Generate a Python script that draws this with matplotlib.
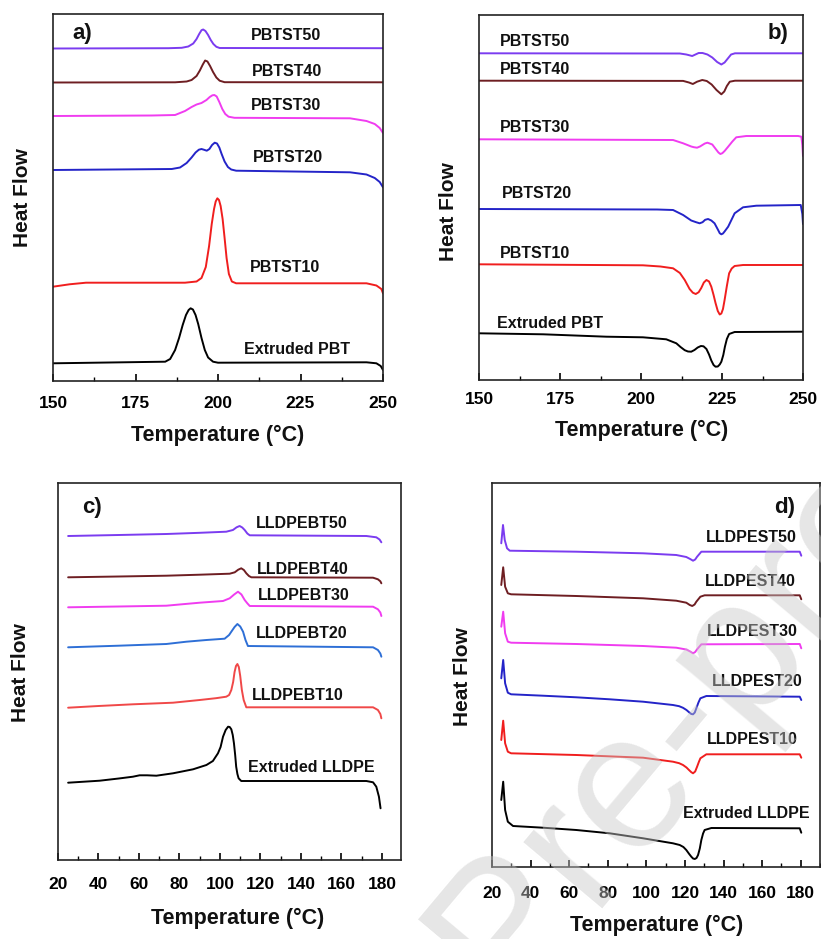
import matplotlib
matplotlib.use("Agg")
import matplotlib.pyplot as plt
from matplotlib.ticker import MultipleLocator, NullLocator

plt.rcParams['font.family'] = ['Liberation Sans', 'DejaVu Sans']
plt.rcParams['font.weight'] = 'bold'

# ---------------- Panel a) PBT series, cooling ----------------
a_labels = ['PBTST50', 'PBTST40', 'PBTST30', 'PBTST20', 'PBTST10', 'Extruded PBT']
a50_T = [150, 185, 189, 191, 192.5, 193.5, 194.3, 195, 195.5, 196.2, 197, 197.8, 198.6, 199.5, 200.5, 250]
a50_HF = [332.5, 332.8, 333.2, 334.5, 337.5, 342, 347, 350.8, 351.5, 350, 346, 341, 337, 334.2, 333, 332.8]
a40_T = [150, 187, 190.5, 192, 193.5, 194.5, 195.4, 196.1, 196.8, 197.6, 198.5, 199.5, 200.5, 202, 250]
a40_HF = [298.5, 298.7, 299.5, 301, 305, 310.5, 316.5, 320.5, 319.5, 315, 309, 303.5, 300.3, 298.8, 298.7]
a30_T = [150, 180, 187, 190, 192, 193.5, 195, 196.5, 197.5, 198.3, 198.9, 199.6, 200.4, 201.3, 202.2, 203.2, 205, 240, 245, 247.5, 249, 250]
a30_HF = [265, 265.5, 266, 270, 274, 276.5, 278, 281, 284, 285.7, 286, 284.5, 279, 272, 267, 264.3, 263.2, 262.7, 260, 257, 253, 248]
a20_T = [150, 186, 188.5, 190.5, 192, 193.2, 194.2, 195, 195.8, 196.6, 197.4, 198.2, 199, 199.7, 200.4, 201.1, 202, 203, 204, 205.5, 240, 245, 247.5, 249, 250]
a20_HF = [211, 212, 213.5, 218, 223.5, 228.5, 231.3, 232, 231.2, 230.3, 232, 236, 238.3, 237.5, 233.5, 227, 219.5, 214, 211.5, 210.3, 208.7, 206.5, 203, 199, 193.7]
a10_T = [150, 155, 160, 190, 193.5, 195, 196.3, 197.3, 198.1, 198.8, 199.3, 199.8, 200.3, 200.8, 201.4, 202, 202.6, 203.3, 204.2, 205.5, 245, 248, 249.5, 250]
a10_HF = [94.3, 96.7, 98.3, 98.3, 99.5, 103, 114, 135, 157, 172, 179.5, 182.7, 181, 175, 162, 143, 123, 107, 99.5, 97.7, 97.7, 95.5, 92, 87.7]
a0_T = [150, 184, 185.5, 187, 188.2, 189.3, 190.3, 191.1, 191.7, 192.4, 193.2, 194, 195, 196, 197, 198.5, 200, 245, 248, 249.3, 250]
a0_HF = [17.7, 19.3, 22, 31, 43, 56, 66, 71, 72.7, 71.5, 66, 57, 43, 31, 23.5, 19.3, 18.3, 18.7, 17.7, 15, 11]
a_series = [(a50_T, a50_HF), (a40_T, a40_HF), (a30_T, a30_HF), (a20_T, a20_HF), (a10_T, a10_HF), (a0_T, a0_HF)]
a_label_xy = [(220.6, 346), (221.0, 310), (220.6, 276), (221.2, 223), (220.3, 114), (224.0, 32)]

# ---------------- Panel b) PBT series, heating ----------------
b_labels = ['PBTST50', 'PBTST40', 'PBTST30', 'PBTST20', 'PBTST10', 'Extruded PBT']
b50_T = [150, 212, 214, 215.8, 216.8, 217.8, 219, 220.5, 222, 223.5, 224.8, 225.8, 226.8, 227.8, 229, 250]
b50_HF = [326.7, 326.5, 325.5, 324, 325.5, 327, 327, 325.5, 322.5, 318, 315.5, 317.5, 321.5, 325.5, 326.7, 326.7]
b40_T = [150, 213, 214.8, 216, 217.3, 218.9, 220.3, 221.8, 223.3, 224.8, 225.7, 226.5, 227.4, 229, 250]
b40_HF = [299.3, 299.1, 297.5, 296, 298.3, 300, 299, 295.5, 290, 285.7, 288.5, 294, 298.3, 299.3, 299.3]
b30_T = [150, 209.9, 213, 215.5, 216.3, 217.3, 218.2, 219.7, 220.5, 221.2, 222, 223.3, 223.9, 224.5, 225.1, 225.8, 226.9, 228.2, 229.4, 232.5, 248.5, 249.5, 249.8, 250]
b30_HF = [240.7, 240, 236.7, 233.5, 232.8, 232.3, 233.5, 236.5, 237.3, 236.5, 235.5, 230, 227.5, 226, 226.8, 229, 233.3, 238.5, 242.7, 244, 244, 243.3, 235, 224]
b20_T = [150, 205, 209.9, 213, 215.5, 217, 218.1, 219, 219.8, 220.7, 221.7, 222.7, 223.8, 224.3, 224.8, 225.3, 225.8, 226.9, 228.9, 231.5, 235.6, 249.3, 249.8, 250]
b20_HF = [171, 170.5, 170, 165, 159.5, 157.8, 156.7, 157.8, 160.2, 161, 159.5, 156.7, 150, 146.8, 145.7, 146.5, 148.5, 153.3, 166.7, 172.7, 174.3, 175, 166, 156]
b10_T = [150, 200.6, 206, 209.9, 212, 213.5, 215, 216, 216.9, 217.8, 218.6, 219.4, 220.2, 221, 221.7, 222.4, 223, 223.7, 224.3, 224.8, 225.3, 225.8, 226.5, 227.2, 228, 228.9, 231.5, 250]
b10_HF = [115.7, 114.7, 113.5, 111.7, 107, 100, 91, 87.3, 86, 87.8, 92, 97.5, 100, 98.5, 93.3, 85, 77, 69, 65.5, 66.5, 71, 80, 94, 106.7, 111.5, 114, 115, 115]
b0_T = [150, 169.8, 189.3, 200.6, 207.8, 210.9, 212.2, 213.5, 214.5, 215.5, 216.5, 217.5, 218.5, 219.3, 220.2, 221, 221.7, 222.4, 223, 223.7, 224.3, 224.8, 225.4, 225.9, 226.5, 227.2, 228.9, 250]
b0_HF = [46.7, 45.7, 43.3, 42.7, 40.7, 36.7, 33, 29.8, 28.5, 28.3, 30, 32.5, 34, 33.7, 31, 25.5, 19.5, 15, 13.3, 13.5, 15.5, 18.3, 25, 33.3, 41, 46, 48, 48.3]
b_series = [(b50_T, b50_HF), (b40_T, b40_HF), (b30_T, b30_HF), (b20_T, b20_HF), (b10_T, b10_HF), (b0_T, b0_HF)]
b_label_xy = [(156.5, 338), (156.5, 310), (156.5, 252), (157.1, 187), (156.5, 127), (155.6, 57)]

# ---------------- Panel c) LLDPE-BT series ----------------
c_labels = ['LLDPEBT50', 'LLDPEBT40', 'LLDPEBT30', 'LLDPEBT20', 'LLDPEBT10', 'Extruded LLDPE']
c50_T = [25, 50, 73.5, 90, 103.1, 106.4, 108.2, 109.7, 111, 112.2, 113.5, 114.7, 172.3, 177.2, 178.8, 179.7]
c50_HF = [324, 325, 326, 327.2, 328.3, 330, 332.7, 334, 332.5, 330, 326.5, 324.7, 324, 322.7, 320.5, 317.7]
c40_T = [25, 50, 73.5, 90, 104.8, 107.3, 109, 110.5, 111.8, 113, 114.3, 115.5, 175.6, 178, 179.2, 179.7]
c40_HF = [282.7, 283.5, 284.3, 285.3, 286.3, 287.7, 290.3, 291.7, 290, 286.7, 284, 282.7, 282.3, 280.7, 278.7, 276.7]
c30_T = [25, 50, 73.5, 80, 90, 101.5, 104.8, 107, 108.9, 110.6, 112.2, 113.5, 114.7, 175.6, 178, 179.2, 179.7]
c30_HF = [252.7, 253.5, 254.3, 255.5, 257.3, 259, 261.7, 265.5, 268.3, 265.5, 260, 256.7, 254, 253.3, 250.7, 247.5, 244]
c20_T = [25, 50, 73.5, 83.4, 93.3, 102.3, 104.5, 105.6, 107.2, 108.6, 110, 111.4, 112.6, 113.8, 175.6, 178, 179.2, 179.7]
c20_HF = [212.7, 214.3, 216, 218.3, 220, 221.3, 225, 228.3, 233, 236, 233.5, 228.3, 220, 214, 212.7, 210, 206.5, 203.3]
c10_T = [25, 40, 57, 76.8, 90, 98, 103.1, 104.5, 105.6, 106.5, 107.2, 107.9, 108.6, 109.3, 110, 110.8, 111.7, 113, 175.6, 178, 179.2, 179.7]
c10_HF = [152.3, 154, 155.7, 157.3, 160, 161.8, 163.3, 165, 170, 178, 188, 194, 196, 193, 184, 170, 160, 152.7, 152.7, 150, 146, 141.7]
c0_T = [25, 40.6, 50, 57, 60.3, 64, 68.6, 76.8, 86.7, 93.3, 96.5, 99, 100.3, 101.5, 102.8, 104, 104.8, 105.6, 106.3, 106.9, 107.5, 108, 108.6, 109.2, 110.5, 172.3, 175.6, 177.2, 178.5, 179.3]
c0_HF = [77.3, 79.3, 81.5, 83.3, 84.7, 84.7, 84.3, 86.7, 90.7, 95, 99, 106.7, 113, 123.3, 130, 133.3, 133, 130.7, 125, 116.7, 105, 93.3, 86, 81.7, 79, 79, 77.7, 73.3, 63.3, 51.7]
c_series = [(c50_T, c50_HF), (c40_T, c40_HF), (c30_T, c30_HF), (c20_T, c20_HF), (c10_T, c10_HF), (c0_T, c0_HF)]
c_label_xy = [(140.3, 336), (140.8, 291), (141.3, 264), (140.3, 227), (138.3, 165), (145.3, 93)]

# ---------------- Panel d) LLDPE-ST series ----------------
d_labels = ['LLDPEST50', 'LLDPEST40', 'LLDPEST30', 'LLDPEST20', 'LLDPEST10', 'Extruded LLDPE']
d50_T = [24.8, 25.7, 26.6, 27.8, 29.2, 63.7, 98.3, 115.5, 120.7, 122.7, 124.2, 125.3, 126.3, 128.5, 179.5, 180.3]
d50_HF = [323.7, 342, 327, 318.7, 316.3, 315.3, 313.7, 312, 310, 308, 306.3, 307.5, 310.3, 315.3, 315.3, 311.3]
d40_T = [24.8, 25.8, 26.8, 28.2, 29.9, 63.7, 98.3, 115.5, 120.7, 122.5, 123.8, 125, 125.9, 128, 130.2, 179.5, 180.3]
d40_HF = [282, 299.7, 280.3, 273.7, 272.7, 271, 268.7, 266.3, 264.3, 262, 261, 262.5, 265.3, 270.3, 271.7, 271.7, 267.7]
d30_T = [24.8, 25.8, 26.8, 28.2, 29.9, 63.7, 98.3, 115.5, 120.7, 122.7, 124.2, 125.3, 126.3, 128.5, 179.5, 180.3]
d30_HF = [240.3, 255.3, 233.7, 225.3, 224.3, 223, 221, 219.3, 217.5, 215.5, 213.7, 215, 217.7, 222.7, 223, 218.7]
d20_T = [24.8, 25.8, 26.8, 28.2, 29.9, 46.4, 63.7, 81, 98.3, 113.8, 117, 119, 120.8, 122.1, 123.3, 124.2, 125.1, 125.9, 127, 128, 131.1, 179.5, 180.3]
d20_HF = [188.7, 207, 183.7, 174.3, 172.7, 171.3, 169.7, 167.7, 165.3, 162, 160.8, 159.2, 157, 154.8, 153, 152.7, 154.5, 158.7, 164.5, 168.7, 171, 170.3, 167]
d10_T = [24.8, 25.8, 26.8, 28.2, 29.9, 63.7, 98.3, 113.8, 117, 119, 120.8, 122.1, 123.3, 124.2, 125.3, 126.3, 127.2, 128, 131.1, 179.5, 180.3]
d10_HF = [127, 146.3, 123.7, 115.3, 113.7, 112, 109.3, 105.3, 103.8, 102, 99.5, 97, 94.8, 93.7, 95.5, 100.3, 105, 108.7, 112.7, 112.7, 109.3]
d0_T = [24.8, 25.8, 26.8, 28.2, 30.9, 46.4, 63.7, 81, 98.3, 113.8, 117.3, 119.2, 120.7, 122.2, 123.3, 124.2, 125.1, 126, 126.8, 127.7, 128.5, 129.4, 130.2, 133.7, 179.5, 180.3]
d0_HF = [67, 85.3, 57, 45.3, 41, 39.3, 37, 33.7, 28.7, 23.7, 22, 20, 17, 13, 10.3, 8.5, 8, 9, 12, 18.5, 27, 33.5, 37, 39, 38.7, 34.3]
d_series = [(d50_T, d50_HF), (d40_T, d40_HF), (d30_T, d30_HF), (d20_T, d20_HF), (d10_T, d10_HF), (d0_T, d0_HF)]
d_label_xy = [(154.6, 329), (154.1, 285), (155.1, 236), (157.7, 185), (155.0, 127), (152.0, 54)]

colors_std = ['#7b3cf0', '#6e1e22', '#f03cf0', '#2424c8', '#f01e1e', '#000000']
colors_c = ['#7b3cf0', '#6e1e22', '#f03cf0', '#2e6fd6', '#f04848', '#000000']

W, H = 821, 939
fig = plt.figure(figsize=(W / 100, H / 100), dpi=100)


def px_axes(l, t, r, b):
    return fig.add_axes([l / W, 1 - b / H, (r - l) / W, (b - t) / H])


panels = [
    dict(box=(53, 14, 383, 381), xlim=(150, 250), ylim=(0, 367), major=25, minor=12.5,
         series=a_series, labels=a_labels, lxy=a_label_xy, ha='center', colors=colors_std,
         tag='a)', tagxy=(158.8, 348), pad=11,
         xlab=(218, 435), ylab=(22, 198)),
    dict(box=(479, 15, 803, 380), xlim=(150, 250), ylim=(0, 365), major=25, minor=12.5,
         series=b_series, labels=b_labels, lxy=b_label_xy, ha='left', colors=colors_std,
         tag='b)', tagxy=(242.3, 347), pad=9,
         xlab=(642, 430), ylab=(449, 212)),
    dict(box=(58, 483, 401, 860), xlim=(20, 189.4), ylim=(0, 377), major=20, minor=10,
         series=c_series, labels=c_labels, lxy=c_label_xy, ha='center', colors=colors_c,
         tag='c)', tagxy=(36.7, 353), pad=12.5,
         xlab=(238, 918), ylab=(21, 673)),
    dict(box=(492, 483, 820, 867), xlim=(20, 190), ylim=(0, 384), major=20, minor=10,
         series=d_series, labels=d_labels, lxy=d_label_xy, ha='center', colors=colors_std,
         tag='d)', tagxy=(171.8, 360), pad=14,
         xlab=(657, 925), ylab=(462, 677)),
]

for p in panels:
    ax = px_axes(*p['box'])
    for (t, hf), col in zip(p['series'], p['colors']):
        ax.plot(t, hf, color=col, lw=1.4, solid_joinstyle='round', solid_capstyle='round')
    for lab, (x, y) in zip(p['labels'], p['lxy']):
        ax.text(x, y, lab, ha=p['ha'], va='center', fontsize=11.5, fontweight='bold', color='#111111')
    ax.text(p['tagxy'][0], p['tagxy'][1], p['tag'], ha='center', va='center',
            fontsize=16, fontweight='bold', color='#111111')
    ax.set_xlim(*p['xlim'])
    ax.set_ylim(*p['ylim'])
    ax.xaxis.set_major_locator(MultipleLocator(p['major']))
    ax.xaxis.set_minor_locator(MultipleLocator(p['minor']))
    ax.yaxis.set_major_locator(NullLocator())
    ax.yaxis.set_minor_locator(NullLocator())
    ax.tick_params(axis='x', which='major', direction='in', length=5, width=1.2,
                   labelsize=12.5, pad=p['pad'], top=False)
    ax.tick_params(axis='x', which='minor', direction='in', length=3, width=1.0, top=False)
    for lbl in ax.get_xticklabels():
        lbl.set_fontweight('bold')
    for s in ax.spines.values():
        s.set_linewidth(1.2)
        s.set_color('#222222')
    fig.text(p['xlab'][0] / W, 1 - p['xlab'][1] / H, 'Temperature (°C)', ha='center', va='center',
             fontsize=15.5, fontweight='bold', color='#111111')
    fig.text(p['ylab'][0] / W, 1 - p['ylab'][1] / H, 'Heat Flow', ha='center', va='center',
             rotation=90, fontsize=15, fontweight='bold', color='#111111')

# watermark
fig.text(505 / W, 1 - 1005 / H, 'Pre-proof', rotation=50, rotation_mode='anchor',
         ha='left', va='baseline', fontsize=140, color='#c8c8c8', alpha=0.45,
         fontweight='normal', zorder=10)

fig.savefig('out.png', dpi=100)
